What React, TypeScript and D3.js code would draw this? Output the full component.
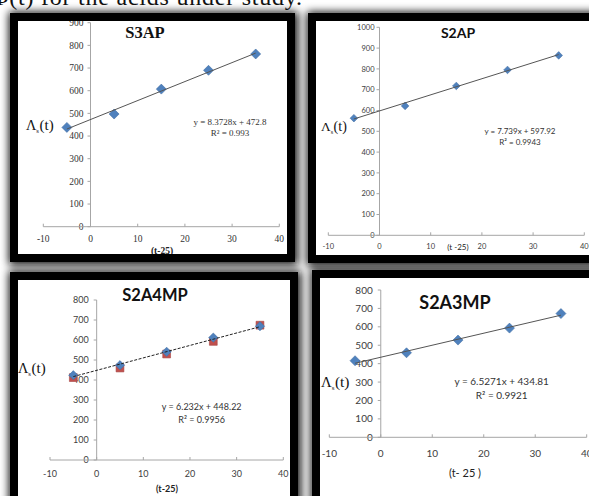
import { useEffect, useRef } from "react";
import * as d3 from "d3";

// values
const xPoints = [-5, 5, 15, 25, 35];
const xTickValues = [-10, 0, 10, 20, 30, 40];
const s3apValues = [438, 497, 607, 690, 762];
const s2apValues = [563, 622, 718, 795, 865];
const s2a4mpBlue = [424, 474, 541, 612, 669];
const s2a4mpRed = [412, 460, 530, 593, 674];
const s2a3mpValues = [416, 459, 528, 593, 672];
const panelTitles = ["S3AP", "S2AP", "S2A4MP", "S2A3MP"];
const slopes = ["8.3728", "7.739", "6.232", "6.5271"];
const intercepts = ["472.8", "597.92", "448.22", "434.81"];
const rSquared = ["0.993", "0.9943", "0.9956", "0.9921"];
const yMaxValues = [900, 1000, 800, 800];
const xAxisTitles = ["(t-25)", "(t -25)", "(t-25)", "(t- 25 )"];
const captionText = "Φ(t)  for the acids under study.";

const SERIF = "'Liberation Serif', 'Times New Roman', serif";
const SANS = "Lato, 'Open Sans', sans-serif";
const BLUE = "#4f81bd";
const RED = "#c0504d";

type Layout = {
  frame: [number, number, number, number];
  xRange: [number, number];
  yRange: [number, number];
  font: string;
  tickSize: number;
  xLabOff: number;
  yLabGap: number;
  title: [number, number, number];
  eq: [number, number, number, number];
  ylab: [number, number, number];
  xTitle: [number, number, number, number];
  marker: number;
  dash: string | null;
};

const layouts: Layout[] = [
  {
    frame: [10, 13, 285, 249], xRange: [43.3, 279.3], yRange: [226.7, 22.7],
    font: SERIF, tickSize: 9.5, xLabOff: 15, yLabGap: 7,
    title: [145, 38, 16.5], eq: [230, 125, 9, 10.5], ylab: [26, 130, 15],
    xTitle: [162, 254, 9.5, 700], marker: 5, dash: null,
  },
  {
    frame: [308, 13, 292, 250], xRange: [328.3, 584.3], yRange: [235.3, 27.3],
    font: SANS, tickSize: 7.5, xLabOff: 14, yLabGap: 5,
    title: [458, 38, 14], eq: [520, 133.5, 8, 11], ylab: [321, 131, 14],
    xTitle: [458, 250, 8, 400], marker: 3.8, dash: null,
  },
  {
    frame: [10, 272, 288, 233], xRange: [50, 283.3], yRange: [460, 300],
    font: SANS, tickSize: 9, xLabOff: 16.5, yLabGap: 8,
    title: [155, 301, 16.5], eq: [201.7, 410, 9, 12.6], ylab: [18, 373, 15],
    xTitle: [167, 492, 9, 700], marker: 4.6, dash: "3,1.5",
  },
  {
    frame: [312, 270, 290, 235], xRange: [329.3, 586.7], yRange: [437.3, 290],
    font: SANS, tickSize: 10, xLabOff: 20, yLabGap: 8,
    title: [455, 309, 18], eq: [501.7, 384.5, 10, 14.5], ylab: [321, 387, 15.5],
    xTitle: [465, 477, 11, 400], marker: 5, dash: null,
  },
];

const seriesByPanel = [
  [{ values: s3apValues, color: BLUE, shape: "diamond" }],
  [{ values: s2apValues, color: BLUE, shape: "diamond" }],
  [
    { values: s2a4mpRed, color: RED, shape: "square" },
    { values: s2a4mpBlue, color: BLUE, shape: "diamond" },
  ],
  [{ values: s2a3mpValues, color: BLUE, shape: "diamond" }],
];

export default function App() {
  const svgRef = useRef<SVGSVGElement>(null);

  useEffect(() => {
    if (!svgRef.current) return;
    const svg = d3.select(svgRef.current);
    svg.selectAll("*").remove();

    const defs = svg.append("defs");
    defs
      .append("filter")
      .attr("id", "shadow")
      .attr("x", "-15%")
      .attr("y", "-15%")
      .attr("width", "130%")
      .attr("height", "130%")
      .append("feGaussianBlur")
      .attr("stdDeviation", 4);

    svg.append("rect").attr("width", 589).attr("height", 496).attr("fill", "#fff");

    // cut-off caption line above the charts
    svg
      .append("text")
      .attr("x", -9)
      .attr("y", 5)
      .attr("textLength", 311)
      .attr("lengthAdjust", "spacing")
      .style("font-family", SERIF)
      .style("font-size", "24px")
      .attr("fill", "#111")
      .text(captionText);

    // shadows first so that neighbouring frames sit on top of them
    layouts.forEach((lay) => {
      const [fx, fy, fw, fh] = lay.frame;
      svg
        .append("rect")
        .attr("x", fx - 1)
        .attr("y", fy - 1)
        .attr("width", fw + 4)
        .attr("height", fh + 4)
        .attr("fill", "#111")
        .attr("filter", "url(#shadow)");
    });

    layouts.forEach((lay, i) => {
      const [fx, fy, fw, fh] = lay.frame;
      const slope = +slopes[i];
      const intercept = +intercepts[i];

      svg
        .append("rect")
        .attr("x", fx)
        .attr("y", fy)
        .attr("width", fw)
        .attr("height", fh)
        .attr("fill", "#fff");

      const g = svg.append("g");
      const x = d3.scaleLinear().domain([-10, 40]).range(lay.xRange);
      const y = d3.scaleLinear().domain([0, yMaxValues[i]]).range(lay.yRange);
      const x0 = x(0);
      const y0 = y(0);
      const axisColor = "#a6a6a6";
      const labelColor = i === 0 ? "#333" : "#404040";

      // y axis
      g.append("line")
        .attr("x1", x0).attr("x2", x0)
        .attr("y1", y0).attr("y2", y(yMaxValues[i]))
        .attr("stroke", axisColor);
      const yTicks = d3.range(0, yMaxValues[i] + 1, 100);
      g.selectAll(".yt")
        .data(yTicks)
        .join("line")
        .attr("x1", x0 - 3).attr("x2", x0)
        .attr("y1", (d) => y(d)).attr("y2", (d) => y(d))
        .attr("stroke", axisColor);
      g.selectAll(".yl")
        .data(yTicks)
        .join("text")
        .attr("x", x0 - lay.yLabGap)
        .attr("y", (d) => y(d))
        .attr("dy", "0.35em")
        .attr("text-anchor", "end")
        .style("font-family", lay.font)
        .style("font-size", `${lay.tickSize}px`)
        .attr("fill", labelColor)
        .text((d) => d);

      // x axis
      g.append("line")
        .attr("x1", x(-10)).attr("x2", x(40))
        .attr("y1", y0).attr("y2", y0)
        .attr("stroke", axisColor);
      g.selectAll(".xt")
        .data(xTickValues)
        .join("line")
        .attr("x1", (d) => x(d)).attr("x2", (d) => x(d))
        .attr("y1", y0 - 3).attr("y2", y0)
        .attr("stroke", axisColor);
      g.selectAll(".xl")
        .data(xTickValues)
        .join("text")
        .attr("x", (d) => x(d))
        .attr("y", y0 + lay.xLabOff)
        .attr("text-anchor", "middle")
        .style("font-family", lay.font)
        .style("font-size", `${lay.tickSize}px`)
        .attr("fill", labelColor)
        .text((d) => d);

      // markers
      seriesByPanel[i].forEach((s) => {
        const r = lay.marker;
        const h = r * 0.85;
        const shape =
          s.shape === "diamond"
            ? `M0,${-r}L${r},0L0,${r}L${-r},0Z`
            : `M${-h},${-h}H${h}V${h}H${-h}Z`;
        g.selectAll(null)
          .data(s.values)
          .join("path")
          .attr("d", shape)
          .attr("transform", (d, k) => `translate(${x(xPoints[k])},${y(d)})`)
          .attr("fill", s.color)
          .attr("stroke", d3.color(s.color)!.darker(0.4).toString())
          .attr("stroke-width", 0.6);
      });

      // linear trendline
      const xs = [xPoints[0], xPoints[xPoints.length - 1]];
      g.append("line")
        .attr("x1", x(xs[0])).attr("y1", y(slope * xs[0] + intercept))
        .attr("x2", x(xs[1])).attr("y2", y(slope * xs[1] + intercept))
        .attr("stroke", i === 2 ? "#222" : "#555")
        .attr("stroke-width", 1)
        .attr("stroke-dasharray", lay.dash ?? null);

      // equation
      const [ex, ey, es, el] = lay.eq;
      g.append("text")
        .attr("x", ex).attr("y", ey)
        .attr("text-anchor", "middle")
        .style("font-family", lay.font)
        .style("font-size", `${es}px`)
        .attr("fill", "#333")
        .text(`y = ${slopes[i]}x + ${intercepts[i]}`);
      g.append("text")
        .attr("x", ex).attr("y", ey + el)
        .attr("text-anchor", "middle")
        .style("font-family", lay.font)
        .style("font-size", `${es}px`)
        .attr("fill", "#333")
        .text(`R² = ${rSquared[i]}`);

      // title
      g.append("text")
        .attr("x", lay.title[0]).attr("y", lay.title[1])
        .attr("text-anchor", "middle")
        .style("font-family", lay.font)
        .style("font-size", `${lay.title[2]}px`)
        .style("font-weight", "700")
        .attr("fill", "#111")
        .text(panelTitles[i]);

      // y label  Λs(t)
      const yl = g.append("text")
        .attr("x", lay.ylab[0]).attr("y", lay.ylab[1])
        .style("font-family", SERIF)
        .style("font-size", `${lay.ylab[2]}px`)
        .attr("fill", "#111");
      yl.append("tspan").style("font-size", `${lay.ylab[2] * 0.95}px`).text("Λ");
      yl.append("tspan").attr("dy", 3).style("font-size", `${lay.ylab[2] * 0.45}px`).text("s");
      yl.append("tspan").attr("dy", -3).attr("dx", 0.5).text("(t)");

      // x title
      g.append("text")
        .attr("x", lay.xTitle[0]).attr("y", lay.xTitle[1])
        .attr("text-anchor", "middle")
        .style("font-family", lay.font)
        .style("font-size", `${lay.xTitle[2]}px`)
        .style("font-weight", lay.xTitle[3])
        .attr("fill", "#222")
        .text(xAxisTitles[i]);

      // black frame on top
      svg
        .append("rect")
        .attr("x", fx + 4)
        .attr("y", fy + 4)
        .attr("width", fw - 8)
        .attr("height", fh - 8)
        .attr("fill", "none")
        .attr("stroke", "#000")
        .attr("stroke-width", 8);
    });
  }, []);

  return (
    <svg
      ref={svgRef}
      width={589}
      height={496}
      style={{ position: "absolute", left: 0, top: 0 }}
    />
  );
}
